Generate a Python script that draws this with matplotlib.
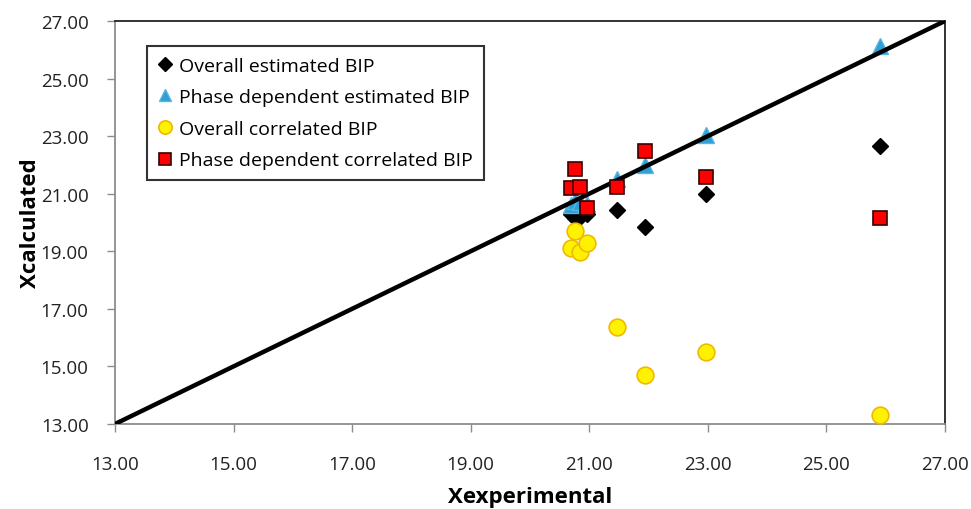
import numpy as np
import matplotlib.pyplot as plt

plt.rcParams['font.family'] = ['Open Sans', 'DejaVu Sans']

# experimental values (x)
x_exp = [20.69, 20.76, 20.84, 20.96, 21.47, 21.94, 22.97, 25.90]

# calculated values (y) per series
overall_est = [20.30, 20.15, 20.20, 20.30, 20.42, 19.83, 20.98, 22.67]
phase_est = [20.60, 20.75, 20.70, 20.65, 21.50, 21.99, 23.05, 26.13]
overall_corr = [19.10, 19.69, 18.99, 19.30, 16.38, 14.71, 15.51, 13.31]
phase_corr = [21.19, 21.85, 21.22, 20.49, 21.22, 22.47, 21.57, 20.14]

ticks = [13, 15, 17, 19, 21, 23, 25, 27]

fig = plt.figure(figsize=(9.71, 5.10), dpi=100)
ax = fig.add_axes([0.1184, 0.1667, 0.8548, 0.7902])

ax.plot(x_exp, overall_est, 'D', color='black', markersize=8.5,
        label='Overall estimated BIP', zorder=3)
ax.plot(x_exp, phase_est, '^', color='#2E9FD6', markersize=11,
        markeredgecolor='#5AB4E0', label='Phase dependent estimated BIP', zorder=3)
ax.plot([13, 27], [13, 27], color='black', linewidth=3.2, zorder=4)
ax.plot(x_exp, overall_corr, 'o', color='#FFF200', markeredgecolor='#F0B800',
        markeredgewidth=1.2, markersize=12, label='Overall correlated BIP', zorder=5)
ax.plot(x_exp, phase_corr, 's', color='#FF0000', markeredgecolor='#3A0000',
        markeredgewidth=1.2, markersize=10, label='Phase dependent correlated BIP', zorder=6)

ax.set_xlim(13, 27)
ax.set_ylim(13, 27)
ax.set_xticks(ticks)
ax.set_yticks(ticks)
ax.set_xticklabels(['%.2f' % t for t in ticks])
ax.set_yticklabels(['%.2f' % t for t in ticks])
ax.tick_params(direction='out', length=6, width=1, color='#8c8c8c',
               labelsize=13.5, labelcolor='#222222')
ax.tick_params(axis='x', pad=16)
ax.tick_params(axis='y', pad=13)

for s in ['left', 'bottom']:
    ax.spines[s].set_color('#8c8c8c')
    ax.spines[s].set_linewidth(1.3)
for s in ['top', 'right']:
    ax.spines[s].set_color('#222222')
    ax.spines[s].set_linewidth(1.3)

ax.set_xlabel('Xexperimental', fontsize=16, fontweight='bold', labelpad=10)
ax.set_ylabel('Xcalculated', fontsize=16, fontweight='bold', labelpad=0)

leg = ax.legend(loc='upper left', bbox_to_anchor=(0.0386, 0.938), borderaxespad=0,
                fontsize=14, frameon=True, fancybox=False, handlelength=0.8,
                handletextpad=0.3, labelspacing=0.7, markerscale=0.8,
                borderpad=0.55)
leg.get_frame().set_edgecolor('black')
leg.get_frame().set_linewidth(1.5)

fig.savefig('out.png', dpi=100)
